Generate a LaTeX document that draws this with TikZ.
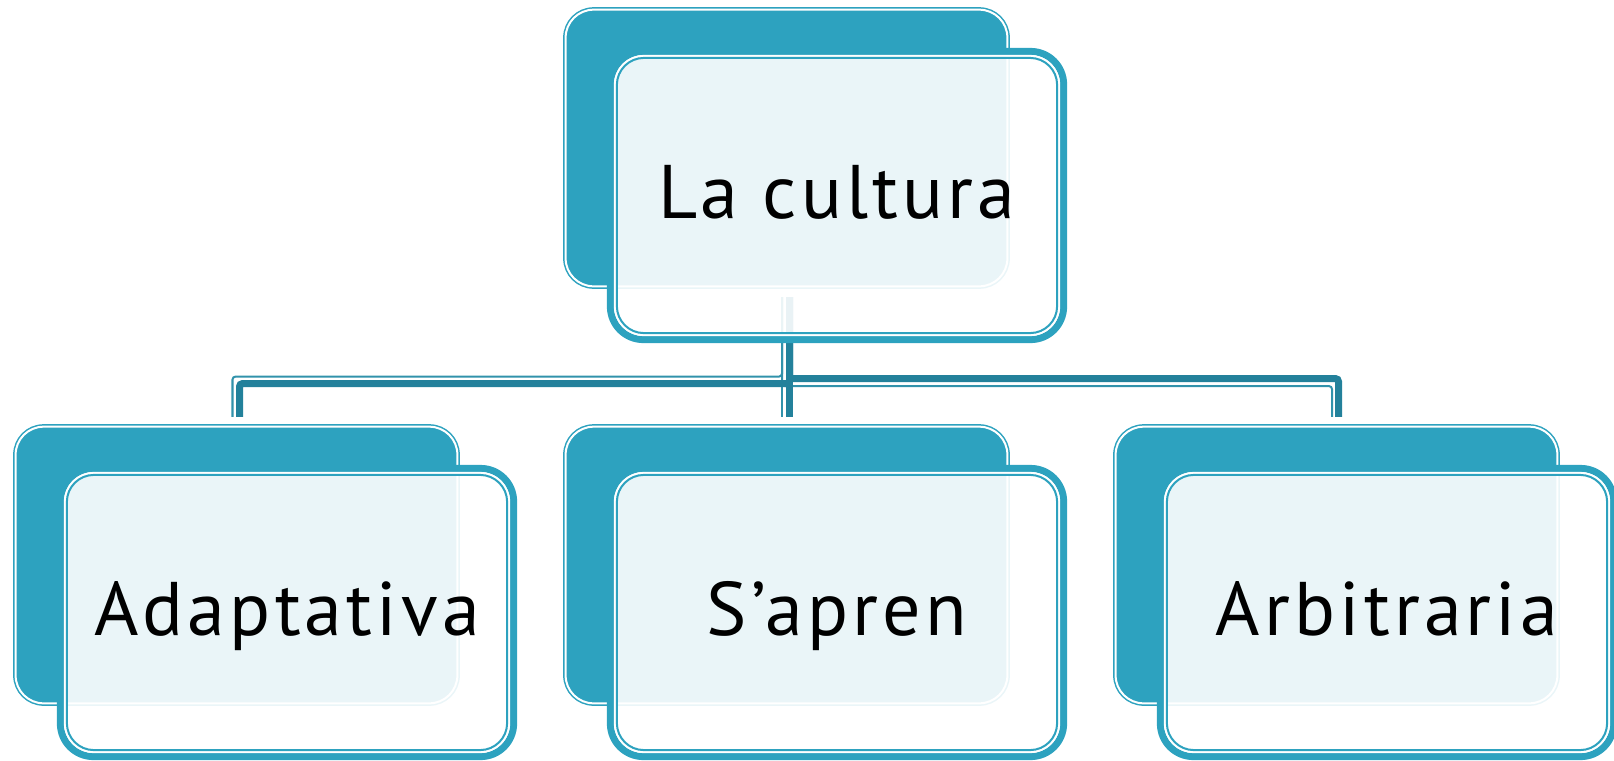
\documentclass[tikz,border=0pt]{standalone}
\usepackage{fontspec}
\setmainfont[LetterSpace=5.5]{PT Sans}
\definecolor{boxteal}{HTML}{2DA2BF}
\definecolor{busdark}{HTML}{23819B}
\definecolor{buslight}{HTML}{3192AB}
\tikzset{
  back/.style={draw=boxteal, fill=boxteal, double=white, double distance=0.02cm,
    line width=0.015cm, rounded corners=0.28cm, minimum width=4.415cm,
    minimum height=2.765cm, inner sep=0pt, outer sep=0pt},
  front/.style={draw=boxteal, line width=0.07cm, fill=white, fill opacity=0.9,
    text opacity=1, rounded corners=0.33cm, minimum width=4.53cm,
    minimum height=2.88cm, inner sep=0pt, outer sep=0pt, text height=0.45cm,
    text depth=0pt, font=\fontsize{21.6pt}{26pt}\selectfont},
  busthick/.style={busdark, line width=0.07cm, rounded corners=0.03cm},
  busthin/.style={buslight, line width=0.02cm, rounded corners=0.03cm},
}
\begin{document}
\begin{tikzpicture}[x=0.01cm,y=-0.01cm]
\useasboundingbox (0,0) rectangle (1614,760);
% back boxes
\node[back] (topB) at (786.5,148) {};
\node[back] (leftB) at (236.5,565) {};
\node[back] (midB) at (786.5,565) {};
\node[back] (rightB) at (1336.5,565) {};
% connectors
\draw[busthin, shorten <=0.1075cm, shorten >=0.0975cm] ([xshift=-0.045cm]topB.south) -- ++(0,90.25) -| ([xshift=-0.04cm]leftB.north);
\draw[busthin, shorten <=0.1075cm, shorten >=0.0975cm] ([xshift=-0.045cm]topB.south) -- ++(0,99.75) -| ([xshift=-0.045cm]rightB.north);
\draw[busthin, shorten <=0.1075cm, shorten >=0.0975cm] ([xshift=-0.045cm]topB.south) -- ([xshift=-0.045cm]midB.north);
\draw[busthick, shorten <=0.1075cm, shorten >=0.0975cm] ([xshift=0.03cm]topB.south) -- ++(0,97.25) -| ([xshift=0.03cm]leftB.north);
\draw[busthick, shorten <=0.1075cm, shorten >=0.0975cm] ([xshift=0.03cm]topB.south) -- ++(0,92.25) -| ([xshift=0.02cm]rightB.north);
\draw[busthick, shorten <=0.1075cm, shorten >=0.0975cm] ([xshift=0.03cm]topB.south) -- ([xshift=0.03cm]midB.north);
% front boxes
\node[front] (top) at ([shift={(50.5,47.5)}]topB) {La cultura};
\node[front] (left) at ([shift={(50.5,47.5)}]leftB) {Adaptativa};
\node[front] (mid) at ([shift={(50.5,47.5)}]midB) {S’apren};
\node[front] (right) at ([shift={(50.5,47.5)}]rightB) {Arbitraria};
\foreach \n in {top,left,mid,right}{
  \draw[white, line width=0.02cm, rounded corners=0.29cm] ([shift={(4.5,4.5)}]\n.north west) rectangle ([shift={(-4.5,-4.5)}]\n.south east);
  \draw[boxteal, line width=0.02cm, rounded corners=0.27cm] ([shift={(6.5,6.5)}]\n.north west) rectangle ([shift={(-6.5,-6.5)}]\n.south east);
}
\end{tikzpicture}
\end{document}
